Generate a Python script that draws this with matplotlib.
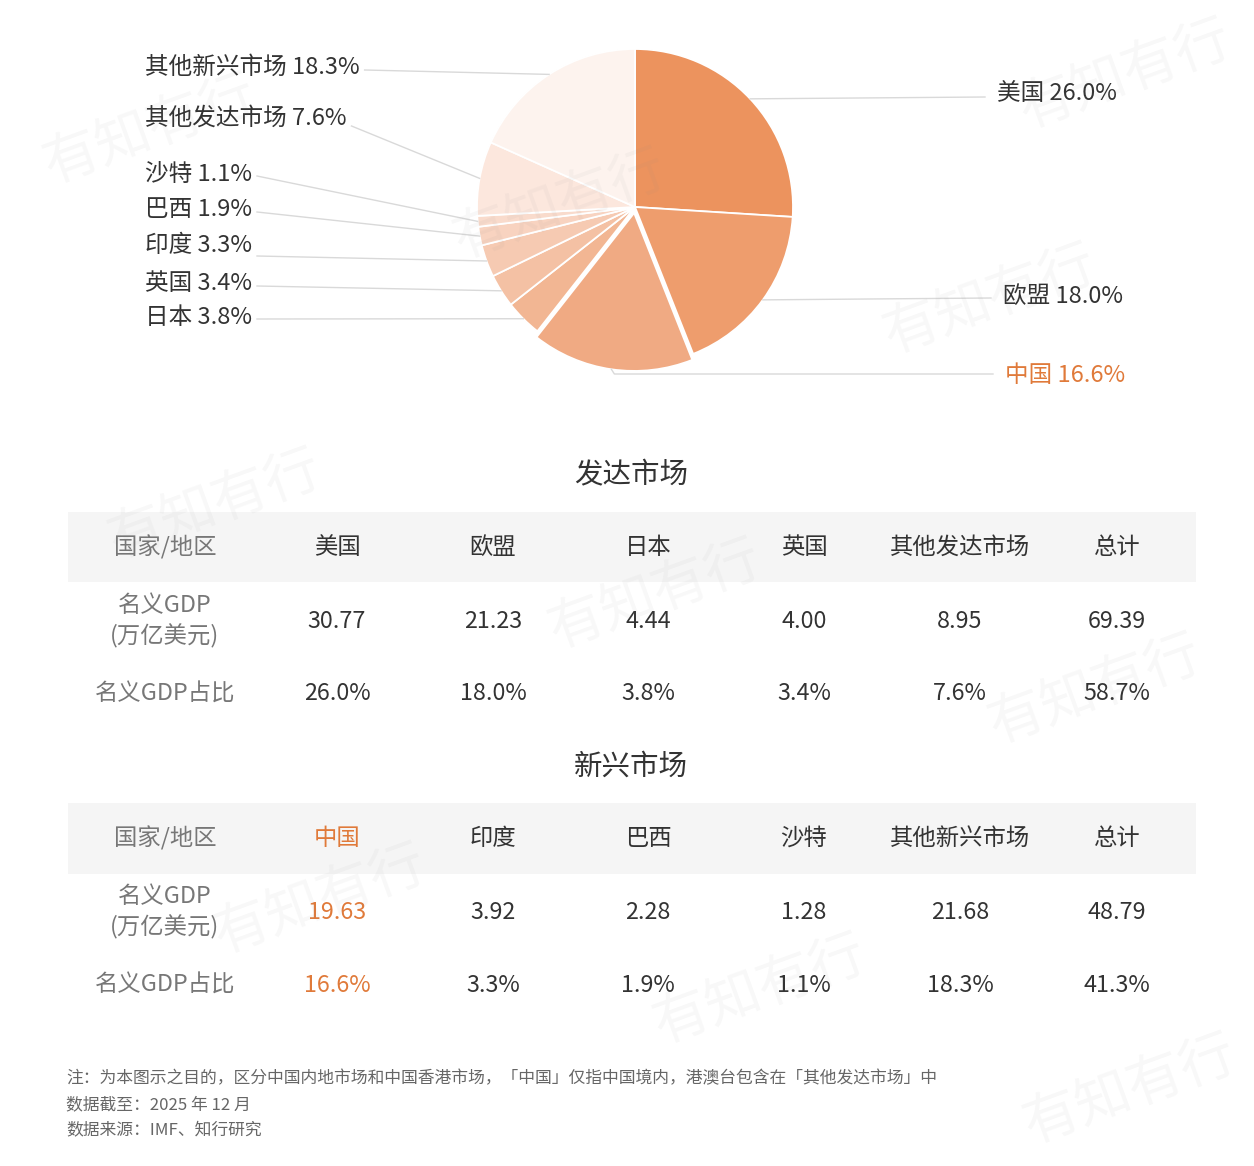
import matplotlib
matplotlib.use('Agg')
import matplotlib.pyplot as plt
import numpy as np
from matplotlib.patches import Rectangle

plt.rcParams['font.family'] = ['Noto Sans CJK SC', 'DejaVu Sans']

W, H = 1254, 1166

# ---------------- data ----------------
pie_labels = ['美国', '欧盟', '中国', '日本', '英国', '印度', '巴西', '沙特', '其他发达市场', '其他新兴市场']
pie_shares = [26.0, 18.0, 16.6, 3.8, 3.4, 3.3, 1.9, 1.1, 7.6, 18.3]
pie_colors = ['#EC935E', '#EE9D6D', '#F0AA83', '#F2B693', '#F4C1A4', '#F6CAB2',
              '#F8D3C0', '#F9DBCC', '#FCE7DD', '#FDF3EE']

dev_title = '发达市场'
dev_cols = ['美国', '欧盟', '日本', '英国', '其他发达市场', '总计']
dev_gdp = [30.77, 21.23, 4.44, 4.00, 8.95, 69.39]
dev_share = [26.0, 18.0, 3.8, 3.4, 7.6, 58.7]

emg_title = '新兴市场'
emg_cols = ['中国', '印度', '巴西', '沙特', '其他新兴市场', '总计']
emg_gdp = [19.63, 3.92, 2.28, 1.28, 21.68, 48.79]
emg_share = [16.6, 3.3, 1.9, 1.1, 18.3, 41.3]

row_header = '国家/地区'
row_gdp = '名义GDP\n(万亿美元)'
row_share = '名义GDP占比'

notes = ['注：为本图示之目的，区分中国内地市场和中国香港市场，「中国」仅指中国境内，港澳台包含在「其他发达市场」中',
         '数据截至：2025 年 12 月',
         '数据来源：IMF、知行研究']

# ---------------- style / layout ----------------
ORANGE = '#E07A3A'
DARK = '#333333'
GREY = '#777777'
LINE = '#D9D9D9'

fig = plt.figure(figsize=(W / 100, H / 100), dpi=100)
ax = fig.add_axes([0, 0, 1, 1])

def Y(p):
    return H - p

cx, cy, R = 635, Y(207), 158
explode = [6 if l == '中国' else 0 for l in pie_labels]

wedges, _ = ax.pie(pie_shares, colors=pie_colors, startangle=90, counterclock=False,
                   center=(cx, cy), radius=R, explode=explode,
                   wedgeprops=dict(edgecolor='white', linewidth=1.3))
ax.set_xlim(0, W)
ax.set_ylim(0, H)
ax.set_aspect('auto')
ax.axis('off')

# label layout: (x, y, side, line_y)
label_layout = {
    '其他新兴市场': (145, 67, 'L', 70),
    '其他发达市场': (145, 118, 'L', 126),
    '沙特': (145, 174, 'L', 176),
    '巴西': (145, 210, 'L', 212),
    '印度': (145, 245, 'L', 256),
    '英国': (145, 283, 'L', 286),
    '日本': (145, 318, 'L', 319),
    '美国': (997, 94, 'R', 97),
    '欧盟': (1003, 296, 'R', 298),
    '中国': (1005, 375, 'R', 374),
}

texts = {}
for lab, share in zip(pie_labels, pie_shares):
    x, y, side, _ = label_layout[lab]
    col = ORANGE if lab == '中国' else DARK
    texts[lab] = ax.text(x, Y(y), f'{lab} {share:.1f}%', fontsize=17, color=col,
                         ha='left', va='center', zorder=5)

fig.canvas.draw()
renderer = fig.canvas.get_renderer()
inv = ax.transData.inverted()

for w, lab in zip(wedges, pie_labels):
    theta = np.deg2rad((w.theta1 + w.theta2) / 2)
    wx, wy = w.center
    ex = wx + R * np.cos(theta)
    ey = wy + R * np.sin(theta)
    bb = texts[lab].get_window_extent(renderer).transformed(inv)
    side = label_layout[lab][2]
    line_y = Y(label_layout[lab][3])
    if side == 'L':
        sx = bb.x1 + 5
        ax.plot([sx, ex], [line_y, ey], color=LINE, lw=1, zorder=1)
    else:
        sx = bb.x0 - 12
        if lab == '中国':
            ax.plot([ex, ex + 3, sx], [ey, line_y, line_y], color=LINE, lw=1, zorder=1)
        else:
            ax.plot([ex, sx], [ey, line_y], color=LINE, lw=1, zorder=1)

# ---------------- tables ----------------
col_x = [165, 337, 493, 648, 804, 960, 1117]
TS = 16.8

def draw_table(title, title_y, band_top, band_bot, cols, gdp, share, highlight=None):
    ax.text(631, Y(title_y), title, fontsize=20.5, color=DARK, ha='center', va='center')
    ax.add_patch(Rectangle((68, Y(band_bot)), 1196 - 68, band_bot - band_top,
                           facecolor='#F5F5F5', edgecolor='none', zorder=0))
    hy = (band_top + band_bot) / 2
    gy = hy + 74
    sy = hy + 147
    ax.text(col_x[0], Y(hy), row_header, fontsize=TS, color=GREY, ha='center', va='center')
    ax.text(col_x[0], Y(gy), row_gdp, fontsize=TS, color=GREY, ha='center', va='center',
            linespacing=1.35)
    ax.text(col_x[0], Y(sy), row_share, fontsize=TS, color=GREY, ha='center', va='center')
    for i, (c, g, s) in enumerate(zip(cols, gdp, share)):
        x = col_x[i + 1]
        colr = ORANGE if c == highlight else DARK
        ax.text(x, Y(hy), c, fontsize=TS, color=colr, ha='center', va='center')
        ax.text(x, Y(gy), f'{g:.2f}', fontsize=TS, color=colr, ha='center', va='center')
        ax.text(x, Y(sy), f'{s:.1f}%', fontsize=TS, color=colr, ha='center', va='center')

draw_table(dev_title, 475, 512, 582, dev_cols, dev_gdp, dev_share)
draw_table(emg_title, 767, 803, 874, emg_cols, emg_gdp, emg_share, highlight='中国')

# ---------------- notes ----------------
for i, n in enumerate(notes):
    ax.text(66, Y(1079 + 26 * i), n, fontsize=12.1, color='#666666', ha='left', va='center')

# ---------------- watermarks ----------------
wm_pos = [(150, 130), (560, 205), (990, 300), (1125, 75), (215, 505), (655, 595),
          (1095, 690), (320, 900), (760, 990), (1130, 1090)]
for (x, y) in wm_pos:
    ax.text(x, Y(y), '有知有行', fontsize=40, color='#888888', alpha=0.06,
            rotation=20, ha='center', va='center', zorder=6)

fig.savefig('out.png', dpi=100, facecolor='white')
